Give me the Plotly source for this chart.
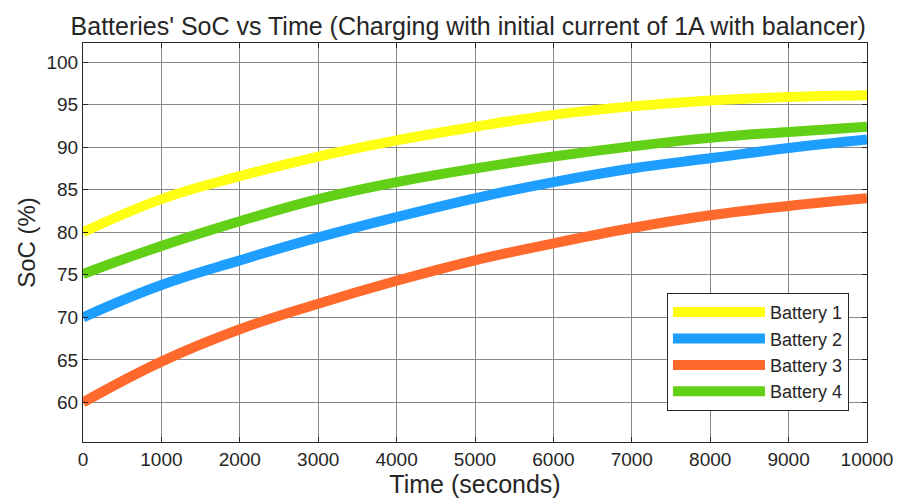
import plotly.graph_objects as go

# Time axis (seconds) and state of charge (%) of each cell
time_s = [0, 1000, 2000, 3000, 4000, 5000, 6000, 7000, 8000, 9000, 10000]
soc_battery1 = [80.0, 83.9, 86.6, 88.9, 90.8, 92.4, 93.8, 94.8, 95.5, 95.9, 96.1]
soc_battery2 = [70.0, 73.8, 76.7, 79.4, 81.8, 84.0, 85.9, 87.5, 88.7, 89.9, 90.9]
soc_battery3 = [60.0, 64.8, 68.6, 71.6, 74.3, 76.7, 78.7, 80.5, 82.0, 83.1, 84.0]
soc_battery4 = [75.1, 78.4, 81.3, 83.9, 85.9, 87.5, 88.9, 90.1, 91.1, 91.8, 92.4]

names = ["Battery 1", "Battery 2", "Battery 3", "Battery 4"]
series = [soc_battery1, soc_battery2, soc_battery3, soc_battery4]
colors = ["#FFFF14", "#1E9EFF", "#FF6A2C", "#62D016"]

x_ticks = list(range(0, 10001, 1000))
y_ticks = list(range(60, 101, 5))

font_family = "Liberation Sans, Arial, Helvetica, sans-serif"
text_color = "#262626"

fig = go.Figure()
for name, values, color in zip(names, series, colors):
    fig.add_trace(go.Scatter(
        x=time_s, y=values, name=name, mode="lines",
        line=dict(color=color, width=10, shape="spline", smoothing=1.2),
    ))

axis_common = dict(
    showline=True, linecolor=text_color, linewidth=1,
    mirror="ticks", ticks="inside", ticklen=5, tickcolor=text_color,
    showgrid=True, gridcolor="#878787", gridwidth=1,
    zeroline=False,
    tickfont=dict(size=19, color=text_color, family=font_family),
)

fig.update_xaxes(
    range=[0, 10000], tickvals=x_ticks, ticktext=[str(v) for v in x_ticks],
    title=dict(text="Time (seconds)", font=dict(size=25, color=text_color, family=font_family), standoff=4),
    **axis_common,
)
fig.update_yaxes(
    range=[55.35, 102.25], tickvals=y_ticks, ticktext=[str(v) for v in y_ticks],
    title=dict(text="SoC (%)", font=dict(size=24, color=text_color, family=font_family), standoff=4),
    **axis_common,
)

fig.update_layout(
    width=904, height=502,
    margin=dict(l=83, r=37, t=43, b=60),
    paper_bgcolor="white", plot_bgcolor="white",
    title=dict(
        text="Batteries' SoC vs Time (Charging with initial current of 1A with balancer)",
        x=0.518, xanchor="center", y=0.948, yanchor="middle",
        font=dict(size=25, color=text_color, family=font_family),
    ),
    legend=dict(
        x=0.977, xanchor="right", y=0.078, yanchor="bottom",
        bgcolor="white", bordercolor=text_color, borderwidth=1,
        font=dict(size=18, color=text_color, family=font_family),
        itemwidth=92, tracegroupgap=0,
    ),
    showlegend=True,
)

fig.write_html("out.html")
